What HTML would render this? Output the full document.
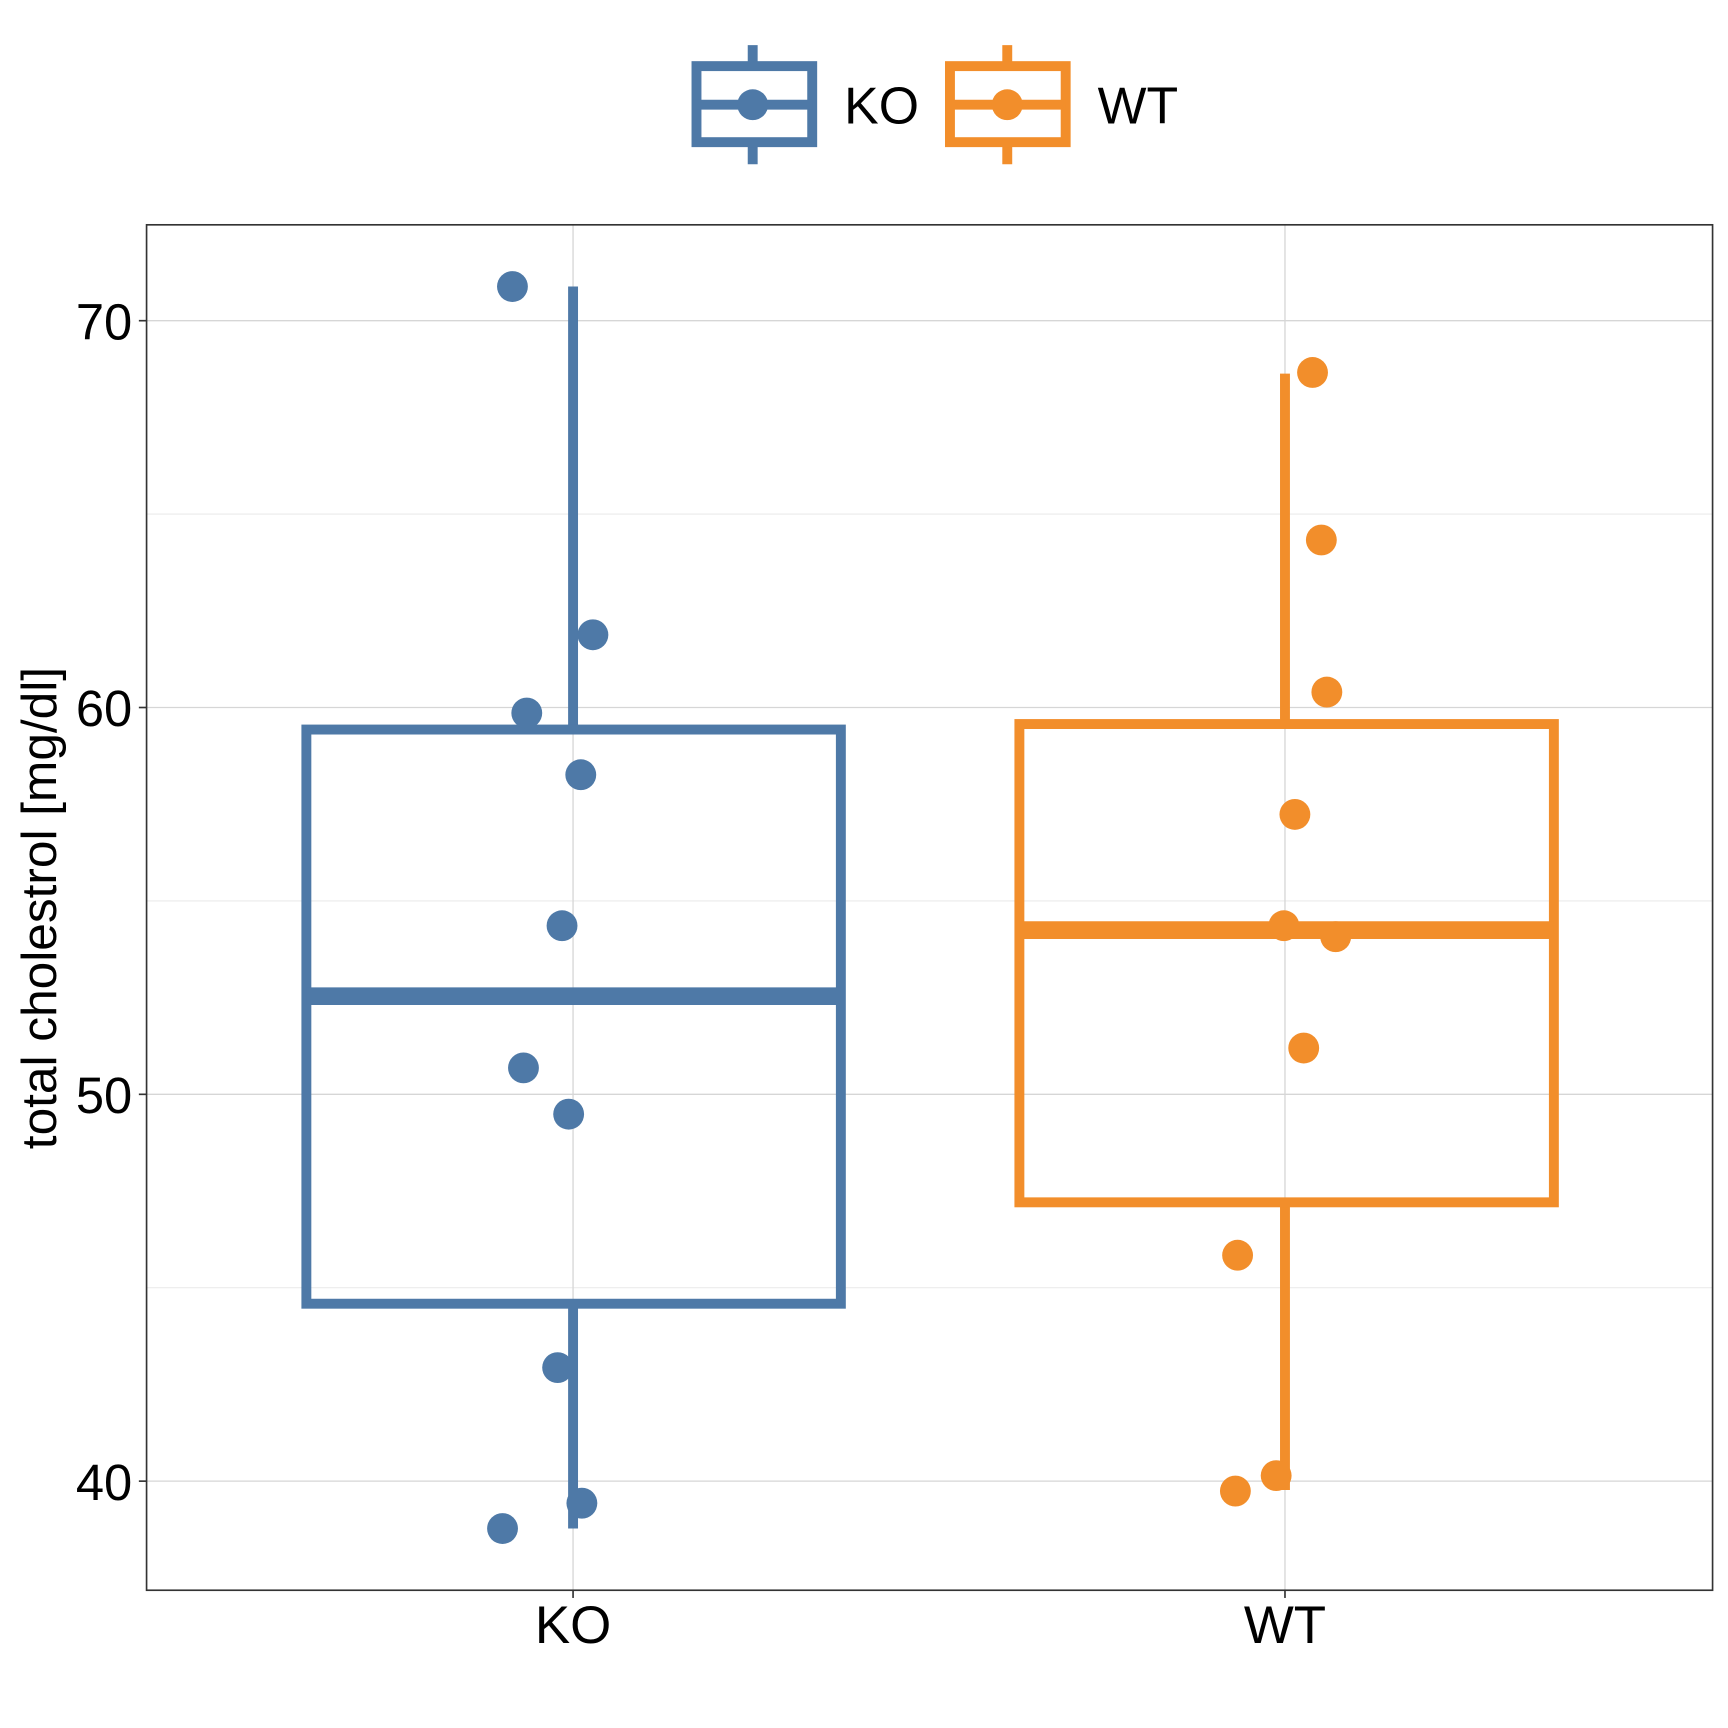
<!DOCTYPE html>
<html><head><style>html,body{margin:0;padding:0;background:#fff}svg{display:block}</style></head>
<body>
<svg width="1728" height="1728" viewBox="0 0 1568 1568" xmlns="http://www.w3.org/2000/svg" font-family="Liberation Sans, Arial, sans-serif">
<rect width="1568" height="1568" fill="#fff"/>
<g stroke="#ebebeb" stroke-width="1">
<line x1="133" x2="1554" y1="466.5" y2="466.5"/><line x1="133" x2="1554" y1="817.5" y2="817.5"/><line x1="133" x2="1554" y1="1168.5" y2="1168.5"/>
</g>
<g stroke="#d6d6d6" stroke-width="1.2">
<line x1="133" x2="1554" y1="291" y2="291"/><line x1="133" x2="1554" y1="642" y2="642"/><line x1="133" x2="1554" y1="993" y2="993"/><line x1="133" x2="1554" y1="1344" y2="1344"/>
<line x1="520" x2="520" y1="204" y2="1443"/><line x1="1166" x2="1166" y1="204" y2="1443"/>
</g>
<g stroke="#4E79A7" stroke-width="9" fill="none">
<line x1="520" x2="520" y1="260" y2="662"/><line x1="520" x2="520" y1="1183" y2="1387"/>
<rect x="278" y="662" width="485" height="521"/>
<line x1="278" x2="763" y1="904" y2="904" stroke-width="16"/>
</g>
<g stroke="#F28E2B" stroke-width="9" fill="none">
<line x1="1166" x2="1166" y1="339" y2="657"/><line x1="1166" x2="1166" y1="1091" y2="1352"/>
<rect x="925" y="657" width="485" height="434"/>
<line x1="925" x2="1410" y1="844" y2="844" stroke-width="16"/>
</g>
<g fill="#4E79A7">
<circle cx="465" cy="260" r="14"/><circle cx="538" cy="576" r="14"/><circle cx="478" cy="647" r="14"/><circle cx="527" cy="703" r="14"/><circle cx="510" cy="840" r="14"/><circle cx="475" cy="969" r="14"/><circle cx="516" cy="1011" r="14"/><circle cx="506" cy="1241" r="14"/><circle cx="528" cy="1364" r="14"/><circle cx="456" cy="1387" r="14"/>
</g>
<g fill="#F28E2B">
<circle cx="1191" cy="338" r="14"/><circle cx="1199" cy="490" r="14"/><circle cx="1204" cy="628" r="14"/><circle cx="1175" cy="739" r="14"/><circle cx="1165" cy="840" r="14"/><circle cx="1212" cy="850" r="14"/><circle cx="1183" cy="951" r="14"/><circle cx="1123" cy="1139" r="14"/><circle cx="1158" cy="1339" r="14"/><circle cx="1121" cy="1353" r="14"/>
</g>
<rect x="133" y="204" width="1421" height="1239" fill="none" stroke="#333" stroke-width="1.5"/>
<g stroke="#333" stroke-width="1.5">
<line x1="126" x2="133" y1="291" y2="291"/><line x1="126" x2="133" y1="642" y2="642"/><line x1="126" x2="133" y1="993" y2="993"/><line x1="126" x2="133" y1="1344" y2="1344"/>
<line x1="520" x2="520" y1="1443" y2="1450"/><line x1="1166" x2="1166" y1="1443" y2="1450"/>
</g>
<g font-size="46" fill="#000" text-anchor="end">
<text x="120" y="308">70</text><text x="120" y="659">60</text><text x="120" y="1010">50</text><text x="120" y="1361">40</text>
</g>
<g font-size="48" fill="#000" text-anchor="middle">
<text x="520" y="1491">KO</text><text x="1166" y="1491">WT</text>
</g>
<text transform="translate(51,824) rotate(-90)" font-size="45" text-anchor="middle">total cholestrol [mg/dl]</text>
<g stroke="#4E79A7" stroke-width="9" fill="none">
<line x1="683" x2="683" y1="41" y2="60"/><line x1="683" x2="683" y1="129" y2="149"/>
<rect x="632" y="60" width="105" height="69"/><line x1="632" x2="737" y1="95" y2="95"/>
</g>
<circle cx="683" cy="95" r="14" fill="#4E79A7"/>
<g stroke="#F28E2B" stroke-width="9" fill="none">
<line x1="914" x2="914" y1="41" y2="60"/><line x1="914" x2="914" y1="129" y2="149"/>
<rect x="862" y="60" width="105" height="69"/><line x1="862" x2="967" y1="95" y2="95"/>
</g>
<circle cx="914" cy="95" r="14" fill="#F28E2B"/>
<g font-size="47" fill="#000"><text x="766" y="112">KO</text><text x="996" y="112">WT</text></g>
</svg>
</body></html>
